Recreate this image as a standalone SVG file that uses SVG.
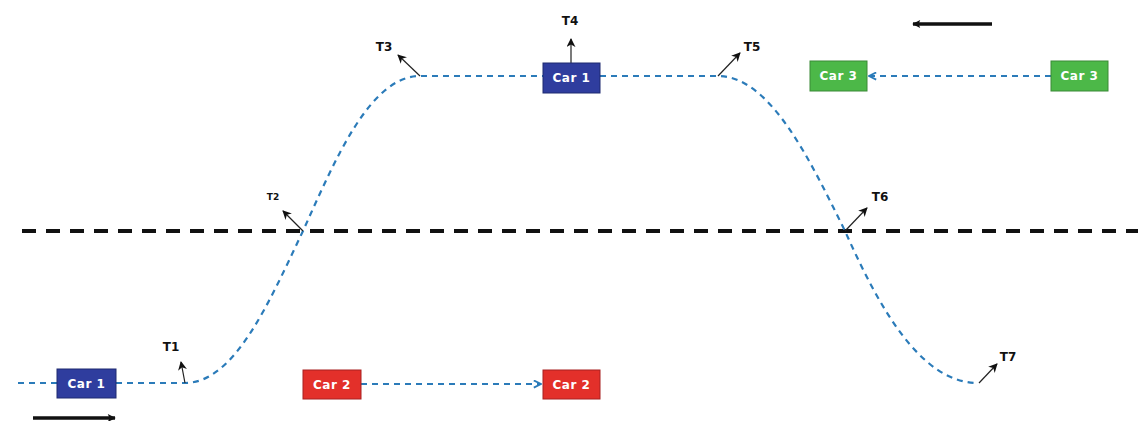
<svg xmlns="http://www.w3.org/2000/svg" width="1138" height="421" viewBox="0 0 1138 421">
<defs>
<marker id="blk" viewBox="0 0 10 10" refX="9" refY="5" markerWidth="9" markerHeight="9" orient="auto" markerUnits="userSpaceOnUse"><path d="M0,0 L10,5 L0,10 L3,5 Z" fill="#111"/></marker>
<marker id="big" viewBox="0 0 10 10" refX="9" refY="5" markerWidth="10" markerHeight="8" orient="auto" markerUnits="userSpaceOnUse"><path d="M0,0 L10,5 L0,10 L2,5 Z" fill="#111"/></marker>
<marker id="blu" viewBox="0 0 10 10" refX="9" refY="5" markerWidth="9" markerHeight="9" orient="auto" markerUnits="userSpaceOnUse"><path d="M1,1 L9,5 L1,9" fill="none" stroke="#2b7bb9" stroke-width="2"/></marker>
<style>
.path{fill:none;stroke:#2b7bb9;stroke-width:2.2;stroke-dasharray:6 5}
.tan{fill:none;stroke:#222;stroke-width:1.2;marker-end:url(#blk)}
.lbl{font-family:"DejaVu Sans",sans-serif;font-weight:bold;font-size:12px;fill:#111;text-anchor:middle}
.car text{font-family:"DejaVu Sans",sans-serif;font-weight:bold;font-size:12px;fill:#fff;text-anchor:middle;letter-spacing:0.5px}
.c1 rect{fill:#2f3d9e;stroke:#1f2a70;stroke-width:1}
.c2 rect{fill:#e3302a;stroke:#a82020;stroke-width:1}
.c3 rect{fill:#4cb848;stroke:#3a8a36;stroke-width:1}
</style>
</defs>
<rect width="1138" height="421" fill="#fff"/>
<g id="connectors">
<line x1="22" y1="231" x2="1138" y2="231" stroke="#111" stroke-width="4" stroke-dasharray="14 10"/>
<path class="path" d="M18,383 H57"/>
<path class="path" d="M116,383 H185 C235,383 270,300 303,231 C335,160 370,76 420,76 H543"/>
<path class="path" d="M600,76 H718 C770,76 810,160 845,231 C878,305 920,383 978,383"/>
<path class="path" d="M361,384 H541" marker-end="url(#blu)"/>
<path class="path" d="M1051,76 H869" marker-end="url(#blu)"/>
<line x1="33" y1="418" x2="115" y2="418" stroke="#111" stroke-width="3.5" marker-end="url(#big)"/>
<line x1="992" y1="24" x2="913" y2="24" stroke="#111" stroke-width="3.5" marker-end="url(#big)"/>
<line class="tan" x1="185" y1="383" x2="181" y2="362"/>
<line class="tan" x1="303" y1="231" x2="283" y2="211"/>
<line class="tan" x1="420" y1="76" x2="398" y2="55"/>
<line class="tan" x1="571" y1="63" x2="571" y2="39"/>
<line class="tan" x1="718" y1="76" x2="740" y2="53"/>
<line class="tan" x1="845" y1="231" x2="867" y2="208"/>
<line class="tan" x1="979" y1="383" x2="997" y2="364"/>
</g>
<g id="labels">
<text class="lbl" x="171" y="351">T1</text>
<text class="lbl" x="273" y="200" style="font-size:9px">T2</text>
<text class="lbl" x="384" y="51">T3</text>
<text class="lbl" x="570" y="25">T4</text>
<text class="lbl" x="752" y="51">T5</text>
<text class="lbl" x="880" y="201">T6</text>
<text class="lbl" x="1008" y="361">T7</text>
</g>
<g id="car1a" class="car c1"><rect x="57" y="369" width="59" height="29"/><text x="86.5" y="388">Car 1</text></g>
<g id="car1b" class="car c1"><rect x="543" y="63" width="57" height="30"/><text x="571.5" y="82">Car 1</text></g>
<g id="car2a" class="car c2"><rect x="303" y="370" width="58" height="29"/><text x="332" y="389">Car 2</text></g>
<g id="car2b" class="car c2"><rect x="543" y="370" width="57" height="29"/><text x="571.5" y="389">Car 2</text></g>
<g id="car3a" class="car c3"><rect x="810" y="61" width="57" height="30"/><text x="838.5" y="80">Car 3</text></g>
<g id="car3b" class="car c3"><rect x="1051" y="61" width="57" height="30"/><text x="1079.5" y="80">Car 3</text></g>
</svg>
